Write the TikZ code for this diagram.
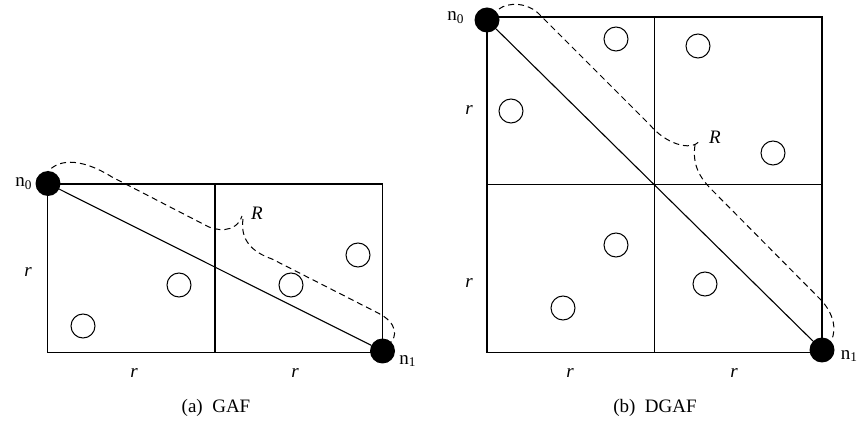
\documentclass[tikz,border=0pt]{standalone}
\usepackage{fontspec}
\setmainfont{Liberation Serif}
\usetikzlibrary{positioning}
\begin{document}
\begin{tikzpicture}[x=1pt, y=-1pt,
  cell/.style={draw, line width=1.1pt},
  hub/.style={circle, fill=black, inner sep=0pt, minimum size=25pt},
  sensor/.style={circle, draw, line width=1pt, inner sep=0pt, minimum size=24pt},
  reach/.style={line width=1pt, dash pattern=on 6pt off 4pt},
  lbl/.style={font=\fontsize{19}{22}\selectfont, inner sep=1pt},
  subfig/.style={font=\fontsize{19}{22}\selectfont, inner sep=1pt},
]
\useasboundingbox (0,0) rectangle (857,430);

% (a) GAF
\draw[cell] (47.5,184) rectangle (382.5,352.5);
\draw[cell] (215,184) -- (215,352.5);

\node[hub] (gn0) at (48,183.5) {};
\node[hub] (gn1) at (382.5,351) {};
\draw[cell] (gn0) -- (gn1);

\foreach \x/\y [count=\i] in {83/326, 179/285, 291/285, 358/255}
  \node[sensor] (gs\i) at (\x,\y) {};

\draw[reach] (45,176) .. controls (55,158) and (80,157) .. (112,177)
  -- (205,225) .. controls (215,231) and (236,234) .. (242,216);
\draw[reach] (243,219) .. controls (240,240) and (252,252) .. (272,259)
  -- (378,313) .. controls (398,323) and (397,337) .. (390,343);

\node[lbl, left=2pt of gn0] {n\textsubscript{0}};
\node[lbl, right=3pt of gn1, yshift=-10pt] {n\textsubscript{1}};
\node[lbl] (gR) at (257,213) {\textit{R}};
\node[lbl] (gry) at (28,272) {\textit{r}};
\node[lbl] (grx1) at (134,373) {\textit{r}};
\node[lbl] (grx2) at (295,373) {\textit{r}};
\node[subfig] (capa) at (216,408) {(a)\enspace GAF};

% (b) DGAF
\draw[cell] (487,17) rectangle (822,352.5);
\draw[cell] (654.5,17) -- (654.5,352.5);
\draw[cell] (487,184.5) -- (822,184.5);

\node[hub] (dn0) at (487,20) {};
\node[hub] (dn1) at (822,350) {};
\draw[cell] (dn0) -- (dn1);

\foreach \x/\y [count=\i] in {616/39, 698/46, 511/111, 773/153, 616/245, 563/308, 705/284}
  \node[sensor] (ds\i) at (\x,\y) {};

\draw[reach] (499,9) .. controls (508,2) and (528,2) .. (540,15)
  -- (650,125) .. controls (665,143) and (690,152) .. (700,141);
\draw[reach] (695,145) .. controls (692,165) and (700,178) .. (712,190)
  -- (818,297) .. controls (832,310) and (838,328) .. (831,341);

\node[lbl, left=9pt of dn0, yshift=2pt] {n\textsubscript{0}};
\node[lbl, right=5pt of dn1, yshift=-6pt] {n\textsubscript{1}};
\node[lbl] (dR) at (715,137) {\textit{R}};
\node[lbl] (dry1) at (469,110) {\textit{r}};
\node[lbl] (dry2) at (469,283) {\textit{r}};
\node[lbl] (drx1) at (570,373) {\textit{r}};
\node[lbl] (drx2) at (734,373) {\textit{r}};
\node[subfig] (capb) at (655,408) {(b)\enspace DGAF};
\end{tikzpicture}
\end{document}
